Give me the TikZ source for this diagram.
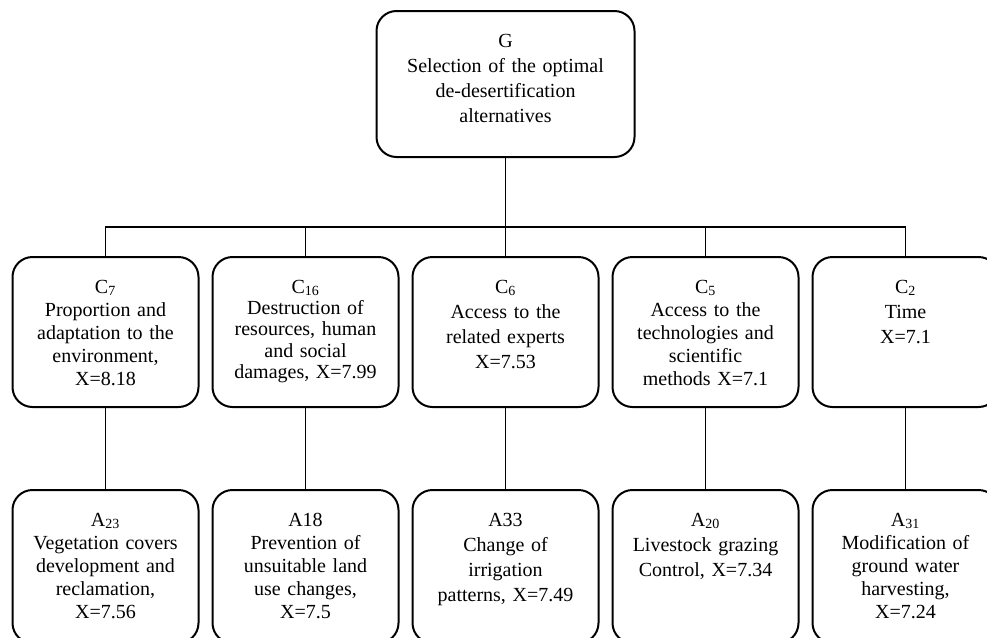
\documentclass[tikz,border=0pt]{standalone}
\usepackage{fontspec}
\setmainfont{Liberation Serif}
\usetikzlibrary{positioning}

\begin{document}
\begin{tikzpicture}[
    x=0.75pt, y=-0.75pt,
    box/.style={draw, line width=1.5pt, rounded corners=15pt, inner sep=0pt,
      outer sep=0pt, text width=139.5pt, align=center, text height=27pt,
      text depth=85.5pt, font=\fontsize{15}{18.75}\selectfont},
    crit/.style={box},
    alt/.style={box, text depth=87.75pt},
    tight/.style={font=\fontsize{15}{17.25}\selectfont},
    dense/.style={font=\fontsize{15}{16}\selectfont},
    link/.style={line width=1.1pt}]
    \useasboundingbox (0,0) rectangle (987,637);
    \clip (0,0) rectangle (987,637);

    % Goal
    \node [box, text width=193.5pt, text depth=82.5pt] (G) at (505.5,84)
      {G\\Selection of the optimal\\de-desertification\\alternatives};

    % Criteria
    \node [crit, below=75pt of G] (C6)
      {C\textsubscript{6}\\Access to the\\related experts\\X=7.53};
    \node [crit, dense, left=10.5pt of C6] (C16)
      {C\textsubscript{16}\\Destruction of\\resources, human\\and social\\damages, X=7.99};
    \node [crit, tight, left=10.5pt of C16] (C7)
      {C\textsubscript{7}\\Proportion and\\adaptation to the\\environment,\\X=8.18};
    \node [crit, tight, right=10.5pt of C6] (C5)
      {C\textsubscript{5}\\Access to the\\technologies and\\scientific\\methods X=7.1};
    \node [crit, right=10.5pt of C5] (C2)
      {C\textsubscript{2}\\Time\\X=7.1};

    % Alternatives
    \node [alt, tight, below=62.25pt of C7] (A23)
      {A\textsubscript{23}\\Vegetation covers\\development and\\reclamation,\\X=7.56};
    \node [alt, tight, below=62.25pt of C16] (A18)
      {A18\\Prevention of\\unsuitable land\\use changes,\\X=7.5};
    \node [alt, below=62.25pt of C6] (A33)
      {A33\\Change of\\irrigation\\patterns, X=7.49};
    \node [alt, below=62.25pt of C5] (A20)
      {A\textsubscript{20}\\Livestock grazing\\Control, X=7.34};
    \node [alt, tight, below=62.25pt of C2] (A31)
      {A\textsubscript{31}\\Modification of\\ground water\\harvesting,\\X=7.24};

    % Links
    \coordinate (bus) at (505.5,227);
    \draw [link] (G.south) -- (bus);
    \draw [link] (C7.north) |- (bus) -| (C2.north);
    \foreach \c in {C16,C6,C5}
      \draw [link] (\c.north) -- (\c.north |- bus);
    \foreach \c/\a in {C7/A23,C16/A18,C6/A33,C5/A20,C2/A31}
      \draw [link] (\c.south) -- (\a.north);
\end{tikzpicture}
\end{document}
